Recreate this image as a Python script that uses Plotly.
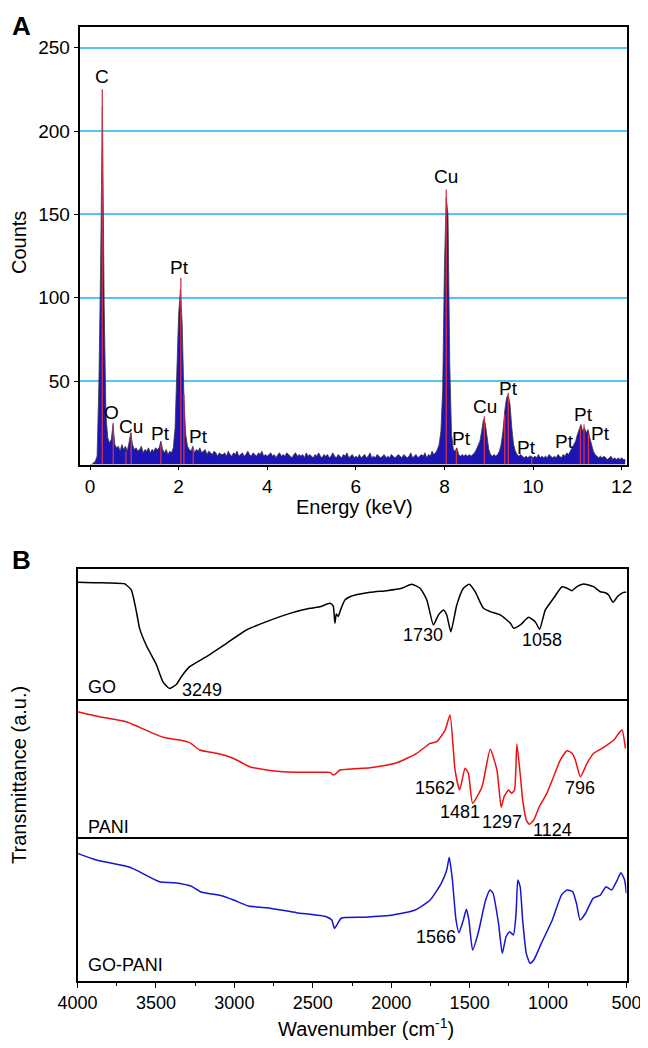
import numpy as np
import plotly.graph_objects as go

# The page body has an 8 px default margin, so the figure is sized to the
# remaining window and page-pixel positions are converted with that offset.
OFF = 8
W, H = 640, 1040
def px(x):
    return (x - OFF) / W
def py(y):
    return 1 - (y - OFF) / H

FONT = "Arial, Liberation Sans, sans-serif"

# ---------------- Panel A : EDS spectrum ----------------
eds_step_kev = 0.04
eds_counts = (
    [0, 0, 1, 2, 5, 48, 120, 215, 95, 30, 16, 13, 15, 24, 12, 10, 11, 8, 12, 9, 11, 8, 13, 19, 12]
    + [9, 10, 8, 9, 11, 7, 9, 8, 10, 7, 9, 8, 10, 9, 10, 14, 9, 7, 9, 6, 8, 7, 10, 22, 55]
    + [90, 105, 85, 40, 18, 11, 9, 8, 11, 7, 9, 8, 10, 7, 8, 9, 6, 8, 7, 6, 8, 7, 5, 7, 6]
    + [6, 7, 5, 8, 6, 5, 7, 6, 8, 5, 6, 7, 5, 6, 8, 6, 5, 7, 6, 5, 7, 6, 8, 5, 6]
    + [5, 6, 7, 5, 6, 4, 6, 7, 5, 6, 5, 7, 6, 5, 4, 6, 7, 5, 6, 5, 6, 4, 7, 5, 6]
    + [5, 4, 6, 5, 7, 5, 4, 6, 5, 6, 4, 5, 7, 5, 4, 6, 5, 4, 6, 5, 7, 4, 5, 6, 4]
    + [5, 4, 6, 4, 5, 6, 4, 5, 7, 4, 5, 4, 6, 5, 4, 5, 6, 4, 5, 4, 6, 5, 4, 5, 6]
    + [5, 4, 6, 5, 4, 5, 7, 4, 5, 6, 4, 5, 6, 5, 7, 4, 6, 5, 8, 6, 7, 9, 12, 20, 45]
    + [120, 160, 150, 60, 18, 9, 8, 10, 6, 5, 6, 5, 6, 5, 6, 5, 6, 7, 9, 12, 14, 20, 27, 25, 16]
    + [9, 6, 5, 6, 5, 6, 8, 12, 20, 32, 40, 42, 36, 22, 12, 8, 6, 5, 6, 5, 4, 5, 4, 5, 5]
    + [4, 5, 4, 6, 4, 5, 4, 5, 4, 6, 5, 4, 5, 4, 6, 5, 4, 6, 5, 7, 6, 8, 10, 12, 14]
    + [18, 21, 24, 20, 22, 19, 21, 16, 12, 8, 6, 5, 4, 5, 4, 5, 4, 3, 4, 5, 3, 4, 3, 4, 3]
    + [4, 3, 3]
)
eds_energy = [round(i * eds_step_kev, 2) for i in range(len(eds_counts))]

# element line markers (red)
line_kev = [0.277, 0.525, 0.81, 0.93, 1.60, 2.05, 2.12, 2.33, 8.04, 8.27, 8.90, 9.36, 9.44, 9.97, 11.07, 11.15, 11.25]
line_counts = [225, 25, 8, 19, 12, 112, 42, 10, 165, 9, 29, 30, 43, 4, 22, 24, 18]

peak_labels = ["C", "O", "Cu", "Pt", "Pt", "Pt", "Cu", "Pt", "Cu", "Pt", "Pt", "Pt", "Pt", "Pt"]
peak_label_kev = [0.27, 0.49, 0.92, 1.60, 2.03, 2.44, 8.03, 8.39, 8.92, 9.44, 9.86, 10.71, 11.14, 11.53]
peak_label_counts = [233, 31, 23, 18.5, 118, 17, 173, 15.6, 34.7, 45.5, 10, 14, 30, 18.4]

counts_ticks = [50, 100, 150, 200, 250]
energy_ticks = [0, 2, 4, 6, 8, 10, 12]

# ---------------- Panel B : FTIR spectra ----------------
go_wn = [4000, 3900, 3800, 3700, 3689, 3657, 3625, 3604, 3561, 3497, 3455, 3413, 3370, 3338, 3285,
         3178, 3050, 2923, 2795, 2646, 2518, 2455, 2391, 2370, 2359, 2350, 2338, 2320, 2295, 2263,
         2135, 2029, 1933, 1869, 1816, 1773, 1731, 1699, 1667, 1646, 1620, 1582, 1540, 1503, 1465,
         1412, 1369, 1305, 1240, 1219, 1177, 1124, 1082, 1054, 1018, 965, 911, 879, 847, 816,
         774, 710, 667, 635, 614, 586, 554, 518, 501]
go_t = [89.9, 89.6, 89.4, 88.8, 87.9, 84.1, 68, 55, 42, 27.5, 14.5, 9.5, 12.5, 18.4, 26,
        33.6, 43.7, 53.8, 60.1, 66.4, 70.2, 71.4, 74, 72, 59, 66, 64, 70, 76.5, 79,
        82.3, 83.6, 85.4, 88.4, 85.4, 76.5, 57.6, 65.2, 68.9, 65.2, 52.5, 72.7, 85.4, 88.4, 82.8,
        70.2, 67.7, 65.2, 58.9, 55.1, 57.6, 63.4, 60.1, 54.3, 68.9, 77.8, 86.6, 85.4, 83.6, 86.6,
        88.6, 86.6, 82.8, 82, 80.3, 74.8, 79.5, 82.3, 82.3]

pani_wn = [4000, 3860, 3689, 3604, 3455, 3349, 3285, 3221, 3114, 3008, 2902, 2795, 2689, 2476, 2390,
           2370, 2350, 2327, 2135, 1965, 1837, 1752, 1709, 1656, 1625, 1593, 1564, 1529, 1508, 1481,
           1421, 1369, 1326, 1299, 1280, 1252, 1233, 1214, 1199, 1174, 1162, 1139, 1120, 1091, 1056,
           1008, 973, 922, 879, 847, 826, 794, 751, 709, 656, 624, 581, 549, 528, 507]
pani_t = [92.2, 88.6, 85, 80.9, 73.7, 71.7, 69.8, 64.5, 62.1, 58.5, 52.4, 50, 48.8, 48.3, 48.3,
          46.4, 47.5, 50, 51.7, 55.3, 62.1, 69.3, 70.5, 79, 89.9, 50, 35.5, 51.2, 47.6, 25.9,
          37.9, 65, 50, 23, 30.7, 35.5, 33.1, 35.5, 68.8, 42.8, 28.3, 13.8, 10.7, 13.8, 23.4,
          33.1, 42.8, 57.2, 64, 62.1, 57.2, 45.1, 54.9, 62.1, 65.7, 68.1, 71.7, 76.6, 79, 65.7]

gopani_wn = [4000, 3879, 3666, 3607, 3477, 3383, 3277, 3217, 3075, 3004, 2910, 2792, 2603, 2414, 2379,
             2362, 2343, 2319, 2178, 1989, 1847, 1752, 1681, 1646, 1630, 1610, 1587, 1568, 1540, 1521,
             1505, 1481, 1446, 1398, 1370, 1351, 1316, 1292, 1268, 1245, 1221, 1204, 1193, 1178, 1162,
             1139, 1115, 1091, 1043, 973, 914, 879, 843, 819, 796, 761, 713, 666, 630, 595,
             559, 536, 512, 501]
gopani_t = [89.9, 85.2, 80.1, 77, 69.9, 69.2, 66.9, 62.9, 59.9, 57, 52.8, 51.6, 48.1, 45.3, 43,
            37.1, 40.1, 44.2, 44.9, 46.5, 50, 57, 68.8, 78.2, 87.1, 71.1, 43, 34, 43, 50.5,
            43, 21.8, 33.6, 57, 64.1, 61.8, 40.6, 19.5, 31.2, 34.7, 32.4, 47.7, 71.1, 66.4, 43,
            19.5, 12.5, 14.8, 26.5, 43, 60.6, 64.1, 62.9, 54.7, 43, 47.7, 58.2, 60.6, 66.4, 64.1,
            71.1, 76.3, 71.1, 61.8]

wn_ticks = [4000, 3500, 3000, 2500, 2000, 1500, 1000, 500]
wn_minor = [3750, 3250, 2750, 2250, 1750, 1250, 750]

# FTIR annotations
ftir_labels = ["GO", "3249", "1730", "1058",
               "PANI", "1562", "1481", "1297", "1124", "796",
               "GO-PANI", "1566"]
ftir_panel = [2, 2, 2, 2, 3, 3, 3, 3, 3, 3, 4, 4]
ftir_wn = [3945, 3349, 1795, 1039, 3945, 1724, 1559, 1292, 973, 796, 3945, 1717]
ftir_val = [10.8, 8.3, 50, 46.2, 8.9, 37, 19.3, 12.5, 6.5, 36.7, 11.3, 31.2]
ftir_anchor = ["left", "left", "center", "center", "left", "center", "center", "center", "center",
               "center", "left", "center"]

# ---------------- Figure ----------------
fig = go.Figure()

fig.add_trace(go.Scatter(
    x=eds_energy, y=eds_counts, mode="lines", fill="tozeroy",
    fillcolor="#1c14b4", line=dict(color="#3a3a3a", width=0.8),
    xaxis="x", yaxis="y", showlegend=False, hoverinfo="skip"))

lx, ly = [], []
for e, c in zip(line_kev, line_counts):
    lx += [e, e, None]
    ly += [0, c, None]
fig.add_trace(go.Scatter(
    x=lx, y=ly, mode="lines", line=dict(color="#d8304c", width=1.3),
    xaxis="x", yaxis="y", showlegend=False, hoverinfo="skip"))

for wn, t, col, ax in [(go_wn, go_t, "#000000", "2"),
                        (pani_wn, pani_t, "#ee1111", "3"),
                        (gopani_wn, gopani_t, "#1515d0", "4")]:
    fig.add_trace(go.Scatter(
        x=wn, y=t, mode="lines", line=dict(color=col, width=1.5, shape="spline", smoothing=0.5),
        xaxis="x" + ax, yaxis="y" + ax, showlegend=False, hoverinfo="skip"))

annotations = []
for t, e, c in zip(peak_labels, peak_label_kev, peak_label_counts):
    annotations.append(dict(text=t, x=e, y=c, xref="x", yref="y", showarrow=False,
                            xanchor="center", yanchor="middle",
                            font=dict(family=FONT, size=19, color="black")))
for t, p, w, v, a in zip(ftir_labels, ftir_panel, ftir_wn, ftir_val, ftir_anchor):
    annotations.append(dict(text=t, x=w, y=v, xref="x%d" % p, yref="y%d" % p, showarrow=False,
                            xanchor=a, yanchor="middle",
                            font=dict(family=FONT, size=18, color="black")))

annotations += [
    dict(text="<b>A</b>", x=px(10), y=py(8.5), xref="paper", yref="paper", showarrow=False,
         xanchor="left", yanchor="top", font=dict(family=FONT, size=26, color="black")),
    dict(text="<b>B</b>", x=px(10), y=py(560), xref="paper", yref="paper", showarrow=False,
         xanchor="left", yanchor="middle", font=dict(family=FONT, size=26, color="black")),
    dict(text="Counts", x=px(19), y=py(243), xref="paper", yref="paper", showarrow=False,
         textangle=-90, xanchor="center", yanchor="middle", font=dict(family=FONT, size=20, color="black")),
    dict(text="Energy (keV)", x=px(354), y=py(507), xref="paper", yref="paper", showarrow=False,
         xanchor="center", yanchor="middle", font=dict(family=FONT, size=20, color="black")),
    dict(text="Transmittance (a.u.)", x=px(19), y=py(775), xref="paper", yref="paper", showarrow=False,
         textangle=-90, xanchor="center", yanchor="middle", font=dict(family=FONT, size=20, color="black")),
    dict(text="Wavenumber (cm<sup>-1</sup>)", x=px(366), y=py(1027), xref="paper", yref="paper",
         showarrow=False, xanchor="center", yanchor="middle", font=dict(family=FONT, size=20, color="black")),
]

LINE = dict(showline=True, linecolor="black", linewidth=1.5, zeroline=False, automargin=False)

xa_dom = [px(79.5), px(627)]
xb_dom = [px(77.5), px(626.5)]

fig.update_layout(
    width=W, height=H, margin=dict(l=0, r=0, t=0, b=0, pad=0, autoexpand=False),
    paper_bgcolor="white", plot_bgcolor="white",
    font=dict(family=FONT, color="black"),
    annotations=annotations,
    xaxis=dict(domain=xa_dom, anchor="y", range=[-0.237, 12.12], tickmode="array", mirror=True,
               tickvals=energy_ticks, ticks="outside", ticklen=4, tickwidth=1.2, tickcolor="black",
               showgrid=False, tickfont=dict(size=19), **LINE),
    yaxis=dict(domain=[py(464.5), py(27)], anchor="x", range=[0, 262.4], tickmode="array", mirror=True,
               tickvals=counts_ticks, ticks="outside", ticklen=4, tickwidth=1.2, tickcolor="black",
               showgrid=True, gridcolor="#55c4ee", gridwidth=1.5, tickfont=dict(size=19), **LINE),
    xaxis2=dict(domain=xb_dom, anchor="y2", range=[4000, 500], side="top", mirror=False,
                showticklabels=False, ticks="", showgrid=False, **LINE),
    yaxis2=dict(domain=[py(701), py(569)], anchor="x2", range=[0, 100], mirror=True,
                showticklabels=False, ticks="", showgrid=False, **LINE),
    xaxis3=dict(domain=xb_dom, anchor="y3", range=[4000, 500], side="top", mirror=False,
                showticklabels=False, ticks="", showgrid=False, **LINE),
    yaxis3=dict(domain=[py(839), py(701)], anchor="x3", range=[0, 100], mirror=True,
                showticklabels=False, ticks="", showgrid=False, **LINE),
    xaxis4=dict(domain=xb_dom, anchor="y4", range=[4000, 500], tickmode="array", tickvals=wn_ticks,
                mirror=True, ticks="outside", ticklen=5, tickwidth=1.2, tickcolor="black", showgrid=False,
                tickfont=dict(size=18),
                minor=dict(ticks="outside", ticklen=3, tickwidth=1.2, tickcolor="black",
                           tickmode="array", tickvals=wn_minor),
                **LINE),
    yaxis4=dict(domain=[py(981), py(839)], anchor="x4", range=[0, 100], mirror=True,
                showticklabels=False, ticks="", showgrid=False, **LINE),
)

fig.write_html("out.html")
